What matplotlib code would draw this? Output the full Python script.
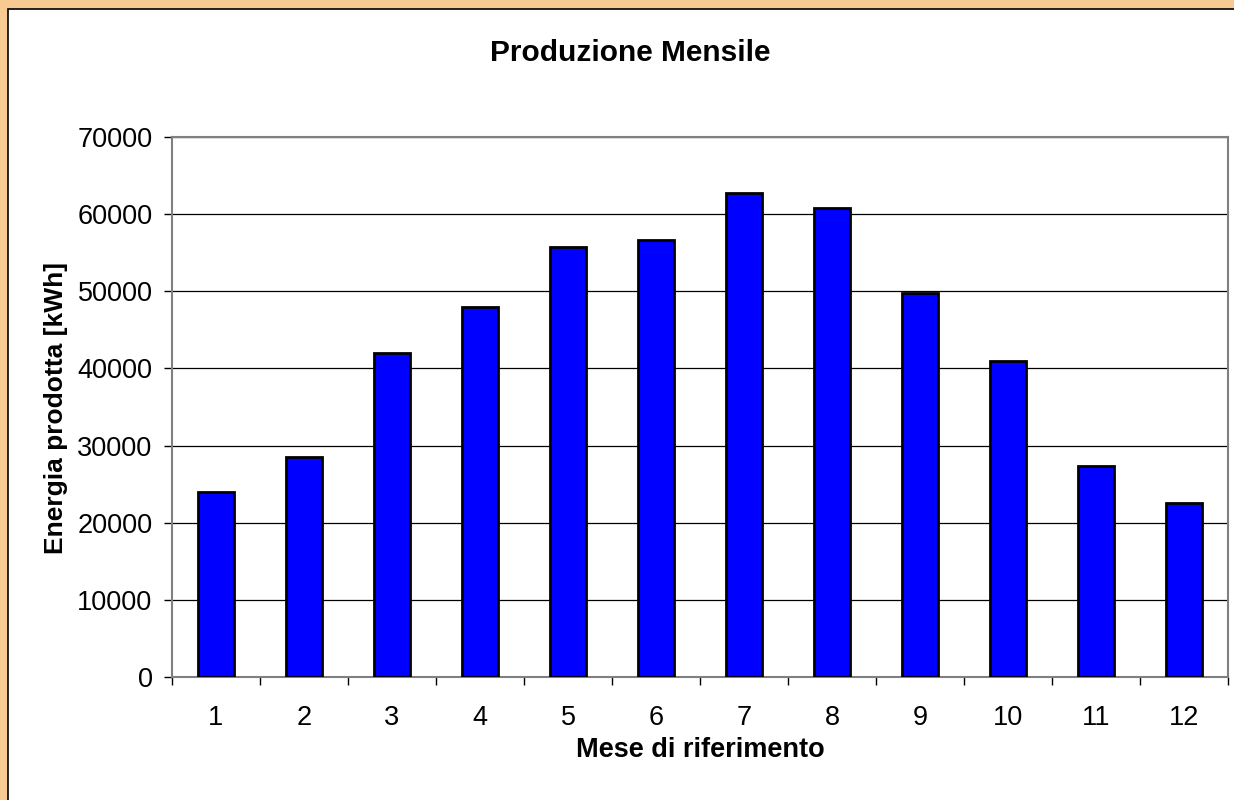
import numpy as np
import matplotlib.pyplot as plt
from matplotlib.patches import Rectangle

# dati
mesi = [1, 2, 3, 4, 5, 6, 7, 8, 9, 10, 11, 12]
energia = [24000, 28500, 42000, 48000, 55700, 56700,
           62800, 60800, 49800, 41000, 27300, 22500]
yticks = [0, 10000, 20000, 30000, 40000, 50000, 60000, 70000]

plt.rcParams['font.family'] = ['Liberation Sans', 'DejaVu Sans']

fig = plt.figure(figsize=(12.34, 8), dpi=100, facecolor='#f6ca90')

# pannello bianco con bordo nero
fig.patches.append(Rectangle((8 / 1234, -0.1), 1.1, 0.1 + 791 / 800,
                             transform=fig.transFigure, facecolor='white',
                             edgecolor='black', linewidth=1.2, zorder=-5))

ax = fig.add_axes([172 / 1234, 1 - 677 / 800, 1056 / 1234, 540 / 800])
ax.set_zorder(2)
ax.set_facecolor('white')

ax.bar(mesi, energia, width=0.42, color='#0000ff', edgecolor='black',
       linewidth=2.0, zorder=3)

ax.set_xlim(0.5, 12.5)
ax.set_ylim(0, 70000)
ax.set_yticks(yticks)
ax.set_yticklabels([str(v) for v in yticks], fontsize=19.5)
ax.set_xticks(mesi)
ax.set_xticklabels([str(m) for m in mesi], fontsize=19.5)
ax.set_xticks(np.arange(0.5, 13, 1), minor=True)
ax.tick_params(axis='x', which='major', length=0, pad=20)
ax.tick_params(axis='x', which='minor', length=6, width=1, color='black')
ax.tick_params(axis='y', length=6, width=1, pad=8)

ax.grid(axis='y', color='black', linewidth=0.9, zorder=1)
for s in ax.spines.values():
    s.set_color('#808080')
    s.set_linewidth(1.5)

fig.text(630 / 1234, 1 - 53 / 800, 'Produzione Mensile', ha='center',
         va='center', fontsize=21.5, fontweight='bold')
fig.text(700 / 1234, 1 - 750 / 800, 'Mese di riferimento', ha='center',
         va='center', fontsize=19.5, fontweight='bold')
fig.text(56 / 1234, 1 - 408 / 800, 'Energia prodotta [kWh]', ha='center',
         va='center', rotation=90, fontsize=19, fontweight='bold')

fig.savefig('out.png', dpi=100, facecolor=fig.get_facecolor())
